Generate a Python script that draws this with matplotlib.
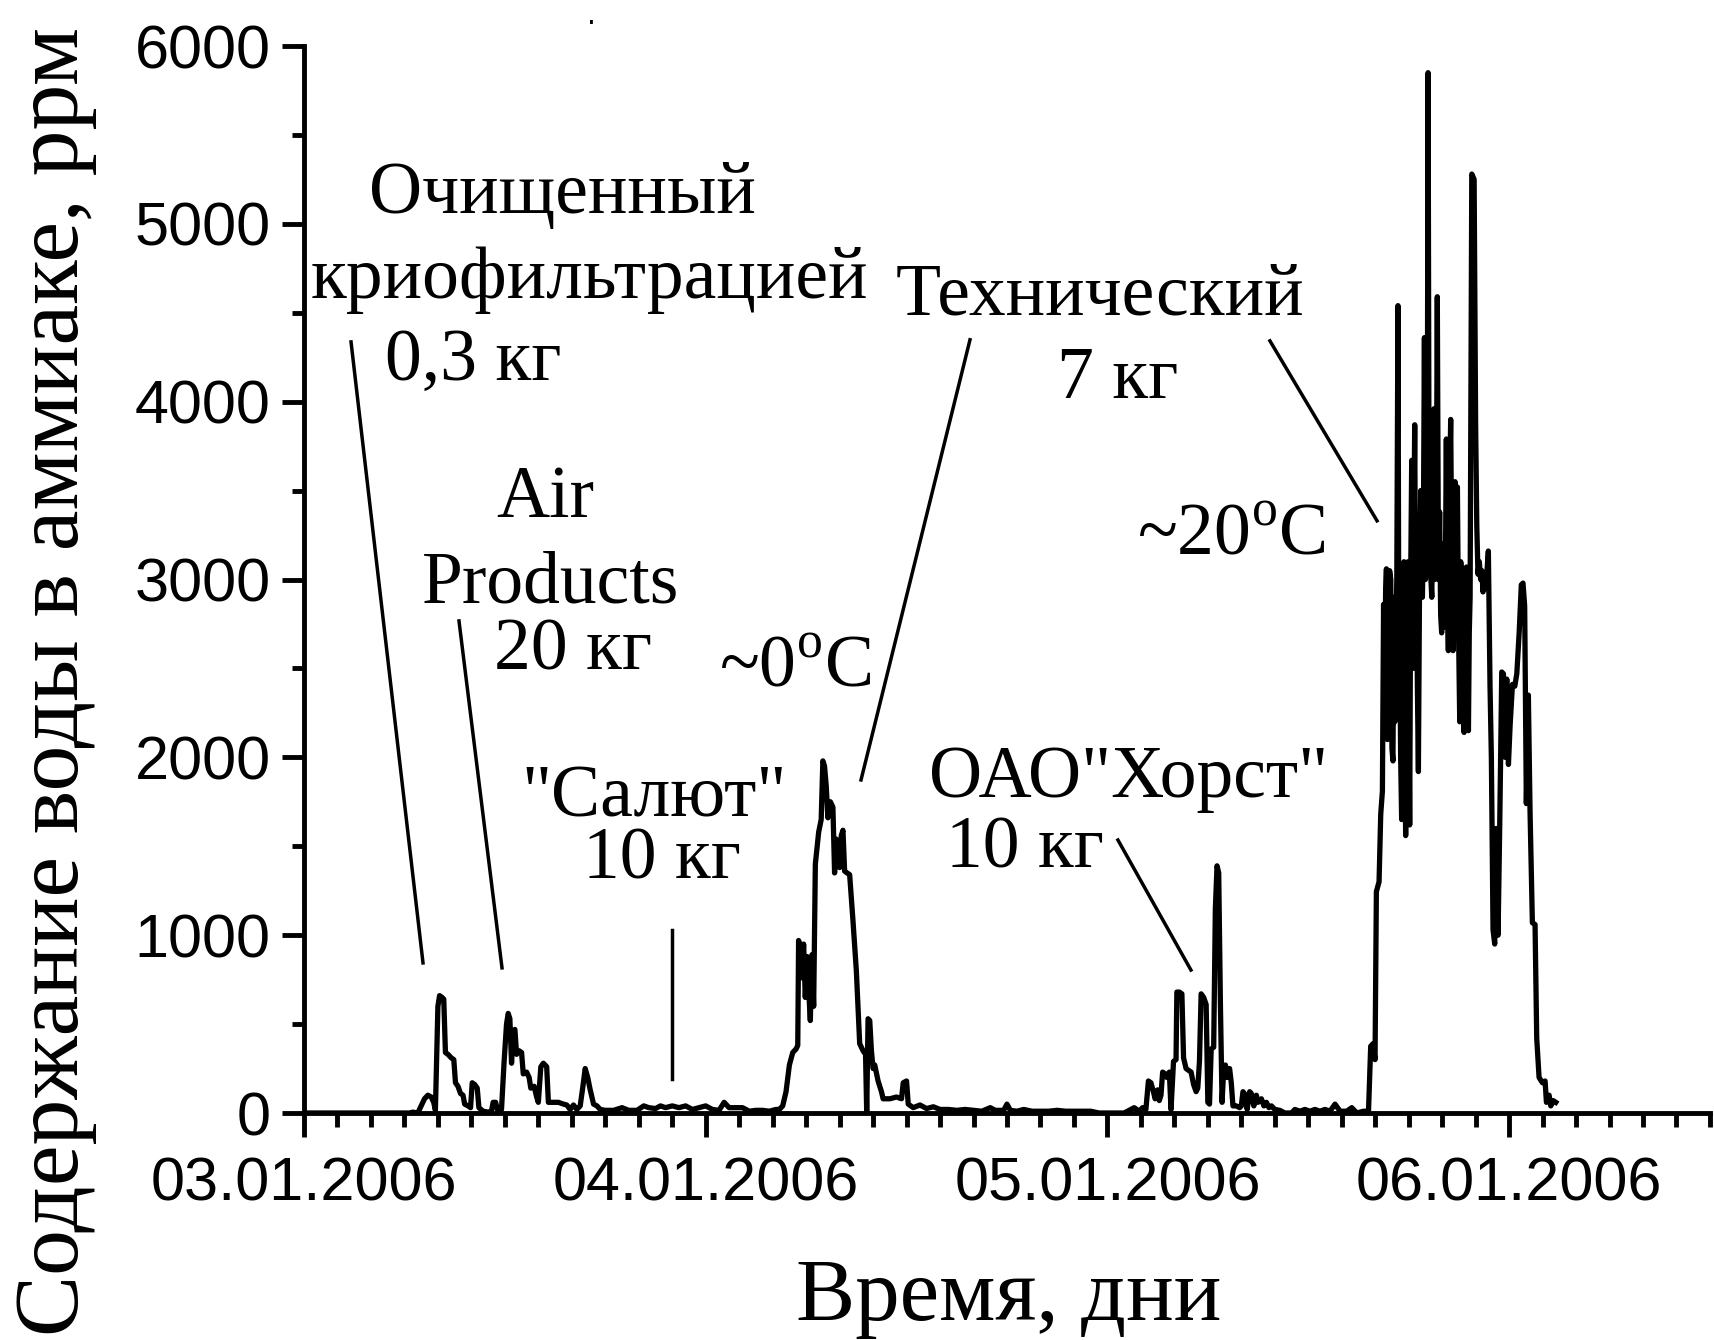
import numpy as np
import matplotlib.pyplot as plt
from matplotlib.ticker import MultipleLocator, FixedLocator, FixedFormatter

plt.rcParams['mathtext.fontset'] = 'custom'
plt.rcParams['mathtext.rm'] = 'Liberation Serif'

# время в часах от 03.01.2006 00:00, содержание воды в ppm
t_start = [0.0, 6.3]
v_start = [0, 0]

t_pure = [6.5, 6.8, 7.0, 7.2, 7.4, 7.6, 7.75, 7.85, 8.0, 8.1, 8.25, 8.35, 8.45, 8.6, 8.8, 8.95,
          9.05, 9.2, 9.35, 9.5, 9.6, 9.8, 9.95, 10.05, 10.2, 10.35, 10.45, 10.7, 11.0]
v_pure = [5, 0, 40, 80, 100, 90, 60, 15, 600, 660, 650, 640, 340, 330, 310, 300,
          170, 150, 110, 100, 50, 40, 30, 170, 160, 140, 30, 10, 5]

t_air = [11.2, 11.3, 11.45, 11.55, 11.8, 11.95, 12.1, 12.2, 12.3, 12.4, 12.5, 12.6, 12.7, 12.85,
         13.0, 13.1, 13.3, 13.45, 13.55, 13.75, 13.9, 14.0, 14.15, 14.3, 14.5, 14.6, 14.9, 15.2,
         15.5, 15.7, 15.9, 16.1, 16.3, 16.5, 16.65, 16.8, 16.95, 17.1, 17.3, 17.5, 17.7]
v_air = [10, 60, 60, 20, 20, 280, 500, 560, 530, 280, 460, 470, 330, 350,
         340, 220, 230, 200, 140, 150, 90, 60, 260, 280, 260, 60, 60, 60,
         50, 45, 20, 45, 20, 40, 140, 250, 200, 130, 50, 40, 20]

t_salut = [18.0, 18.5, 19.0, 19.4, 19.9, 20.3, 20.6, 21.0, 21.3, 21.6, 22.0, 22.4, 22.8, 23.2,
           23.6, 24.0, 24.4, 24.8, 25.1, 25.4, 25.8, 26.2, 26.6, 27.0, 27.4, 27.8, 28.2, 28.4]
v_salut = [15, 15, 30, 15, 15, 40, 30, 25, 40, 30, 40, 30, 40, 20,
           30, 40, 20, 15, 60, 30, 30, 30, 10, 15, 15, 10, 20, 20]

t_tech0 = [28.6, 28.8, 29.0, 29.2, 29.4, 29.5, 29.55, 29.65, 29.75, 29.85, 29.95, 30.05, 30.15,
           30.25, 30.35, 30.45, 30.55, 30.75, 30.9, 31.0, 31.1, 31.2, 31.3, 31.45, 31.6, 31.7,
           31.8, 31.9, 32.0, 32.1, 32.2, 32.3, 32.45, 32.6, 32.8, 33.0, 33.2, 33.4, 33.55, 33.62,
           33.7, 33.8, 33.9, 34.0, 34.1, 34.3, 34.5, 34.6, 35.0, 35.4, 35.7, 35.8, 36.0, 36.1,
           36.4, 36.8, 37.2, 37.6, 38.0, 38.5, 39.0]
v_tech0 = [40, 120, 270, 340, 360, 380, 970, 930, 760, 950, 650, 880, 700,
           520, 890, 600, 1400, 1580, 1650, 1980, 1950, 1840, 1660, 1750, 1720, 1350,
           1540, 1400, 1380, 1560, 1590, 1360, 1350, 1340, 1080, 800, 390, 350, 330, 0,
           530, 520, 350, 250, 270, 180, 120, 80, 80, 90, 80, 170, 180, 50,
           30, 45, 25, 35, 20, 20, 15]

t_quiet = [39.5, 40.0, 40.5, 41.0, 41.3, 41.8, 42.0, 42.2, 42.6, 43.0, 43.5, 44.0, 44.5, 45.0,
           45.5, 46.0, 46.5, 47.0, 47.5, 48.0, 48.5, 49.0]
v_quiet = [20, 15, 10, 30, 15, 15, 50, 15, 10, 20, 10, 10, 10, 15,
           10, 10, 10, 10, 0, 0, 0, 0]

t_horst = [49.6, 49.9, 50.1, 50.3, 50.45, 50.6, 50.75, 50.85, 51.0, 51.1, 51.2, 51.3, 51.45,
           51.55, 51.7, 51.8, 51.95, 52.1, 52.15, 52.3, 52.45, 52.55, 52.7, 52.85, 53.0, 53.15,
           53.3, 53.4, 53.5, 53.6, 53.75, 53.9, 54.0, 54.1, 54.2, 54.35, 54.45, 54.55, 54.65,
           54.75, 54.85, 54.95, 55.05, 55.15, 55.3, 55.4, 55.5, 55.7, 55.9, 56.0, 56.1, 56.25,
           56.35, 56.5, 56.6, 56.75, 56.9, 57.0, 57.2, 57.35, 57.5, 57.65, 57.8, 58.0, 58.3,
           58.6, 59.0, 59.2, 59.5, 59.8, 60.1, 60.4, 60.7, 61.0, 61.3, 61.6, 61.9, 62.3, 62.6,
           62.9, 63.3, 63.6]
v_horst = [30, 10, 30, 20, 180, 170, 120, 80, 130, 70, 100, 230, 220,
           200, 230, 20, 290, 300, 680, 680, 670, 310, 250, 240, 230, 160,
           120, 140, 290, 670, 650, 610, 60, 50, 360, 370, 1150, 1390, 1350,
           620, 60, 250, 270, 200, 250, 170, 40, 40, 30, 40, 120, 100,
           20, 120, 110, 40, 100, 60, 80, 40, 60, 30, 40, 20, 15,
           0, 0, 20, 10, 20, 10, 20, 10, 20, 10, 50, 10, 10, 30,
           0, 10, 10]

t_tech20 = [63.73, 63.87, 63.99, 64.07, 64.23, 64.33, 64.43, 64.5, 64.56, 64.62, 64.67, 64.73,
            64.79, 64.86, 64.93, 65.0, 65.06, 65.12, 65.17, 65.22, 65.29, 65.36, 65.41, 65.46,
            65.52, 65.58, 65.65, 65.72, 65.77, 65.82, 65.89, 65.96, 66.01, 66.06, 66.12, 66.18,
            66.22, 66.26, 66.31, 66.36, 66.41, 66.46, 66.52, 66.58, 66.65, 66.72, 66.77, 66.82,
            66.88, 66.94, 67.0, 67.06, 67.11, 67.16, 67.22, 67.28, 67.33, 67.38, 67.45, 67.51,
            67.56, 67.61, 67.66, 67.71, 67.78, 67.85, 67.91, 67.97, 68.02, 68.07, 68.12, 68.17,
            68.21, 68.25, 68.31, 68.37, 68.44, 68.51, 68.58, 68.65, 68.71, 68.77, 68.84, 68.91,
            68.98, 69.05, 69.11, 69.17, 69.24, 69.31, 69.38, 69.45, 69.51, 69.57, 69.62, 69.67,
            69.77, 69.91, 70.0, 70.07, 70.14, 70.22, 70.3, 70.37, 70.44, 70.52, 70.6, 70.68,
            70.76, 70.86, 70.94, 71.04, 71.14, 71.24, 71.34, 71.44, 71.56, 71.66, 71.76, 71.86,
            71.96, 72.06, 72.2, 72.34, 72.46, 72.6, 72.73, 72.83, 72.93, 73.03, 73.15, 73.25,
            73.39, 73.55, 73.65, 73.79, 73.99, 74.15, 74.23, 74.39, 74.49, 74.63, 74.79]
v_tech20 = [375, 390, 300, 1245, 1300, 1680, 1810, 2860, 2300, 2920, 3060, 2100,
            2590, 3050, 3000, 2050, 1980, 2900, 2200, 2500, 3000, 4540, 2600, 2720,
            2000, 1650, 2800, 3100, 2000, 1560, 2600, 3100, 2300, 1620, 3000, 3670,
            2700, 2500, 3300, 3870, 2900, 3260, 2400, 1920, 3000, 3500, 2900, 2900,
            3300, 4360, 3000, 3100, 3600, 5850, 3300, 3900, 3000, 2900, 3400, 3960,
            3000, 3100, 3500, 4590, 3000, 3380, 2800, 2700, 3200, 2730, 3100, 2750,
            3300, 3790, 2900, 2600, 3500, 3900, 3000, 2600, 3300, 3550, 2800, 3520,
            2700, 2200, 3100, 3000, 2500, 2140, 2800, 3070, 2400, 2150, 2700, 2900,
            5280, 5250, 3870, 3300, 3030, 3100, 3000, 3050, 2930, 3000, 2950, 3050,
            3160, 2400, 2000, 1030, 950, 1600, 1000, 1620, 2480, 2470, 2000, 2440,
            1960, 2180, 2410, 2400, 2470, 2700, 2970, 2980, 2850, 1740, 2350, 1700,
            1070, 1060, 420, 200, 170, 180, 60, 100, 40, 70, 60]

hours = t_start + t_pure + t_air + t_salut + t_tech0 + t_quiet + t_horst + t_tech20
ppm = v_start + v_pure + v_air + v_salut + v_tech0 + v_quiet + v_horst + v_tech20

day_ticks = [0, 24, 48, 72]
day_labels = ['03.01.2006', '04.01.2006', '05.01.2006', '06.01.2006']

serif = 'Liberation Serif'
sans = 'Liberation Sans'

fig = plt.figure(figsize=(17.15, 13.4), dpi=100)
ax = fig.add_axes([0.17726, 0.16940, 0.8198, 0.79627])
ax.plot(hours, ppm, color='black', lw=3.8)

ax.set_xlim(0, 84)
ax.set_ylim(0, 6000)
for s in ['top', 'right']:
    ax.spines[s].set_visible(False)
for s in ['left', 'bottom']:
    ax.spines[s].set_linewidth(3.5)

ax.xaxis.set_major_locator(FixedLocator(day_ticks))
ax.xaxis.set_major_formatter(FixedFormatter(day_labels))
ax.xaxis.set_minor_locator(MultipleLocator(2))
ax.yaxis.set_major_locator(MultipleLocator(1000))
ax.yaxis.set_minor_locator(MultipleLocator(500))
ax.tick_params(axis='x', which='major', length=17, width=3.5, pad=14)
ax.tick_params(axis='x', which='minor', length=10, width=3.5)
ax.tick_params(axis='y', which='major', length=16, width=3.5, pad=8)
ax.tick_params(axis='y', which='minor', length=9, width=3.5)
for lab in ax.get_xticklabels() + ax.get_yticklabels():
    lab.set_fontfamily(sans)
    lab.set_fontsize(44)

# подписи и выноски
notes = [
    ('Очищенный', 15.47, 5062),
    ('криофильтрацией', 17.03, 4584),
    ('0,3 кг', 10.10, 4123),
    ('Air', 14.40, 3352),
    ('Products', 14.76, 2868),
    ('20 кг', 16.07, 2492),
    ('"Салют"', 20.91, 1665),
    ('10 кг', 21.39, 1316),
    ('~0$^\\mathrm{o}$C', 29.33, 2396),
    ('Технический', 47.56, 4488),
    ('7 кг', 48.63, 4021),
    ('~20$^\\mathrm{o}$C', 55.44, 3138),
    ('ОАО"Хорст"', 49.29, 1777),
    ('10 кг', 43.08, 1378),
]
for txt, x, y in notes:
    ax.text(x, y, txt, ha='center', va='baseline', fontsize=53, family=serif)

pointers = [
    ((2.81, 4336), (7.11, 844)),
    ((9.26, 2767), (11.83, 816)),
    ((21.99, 1029), (21.99, 191)),
    ((39.79, 4348), (33.28, 1873)),
    ((57.71, 4342), (64.11, 3330)),
    ((48.63, 1535), (52.99, 804)),
]
for (x0, y0), (x1, y1) in pointers:
    ax.plot([x0, x1], [y0, y1], color='black', lw=2.5)

fig.text(1009 / 1715, 1 - 1320 / 1340, 'Время, дни', ha='center', va='baseline',
         fontsize=64, family=serif)
fig.text(78 / 1715, 1 - 682 / 1340, 'Содержание воды в аммиаке, ррм', rotation=90,
         rotation_mode='anchor', ha='center', va='baseline', fontsize=66, family=serif)
fig.text(591 / 1715, 1 - 24 / 1340, '.', ha='center', va='baseline', fontsize=20)

fig.savefig('out.png', dpi=100)
